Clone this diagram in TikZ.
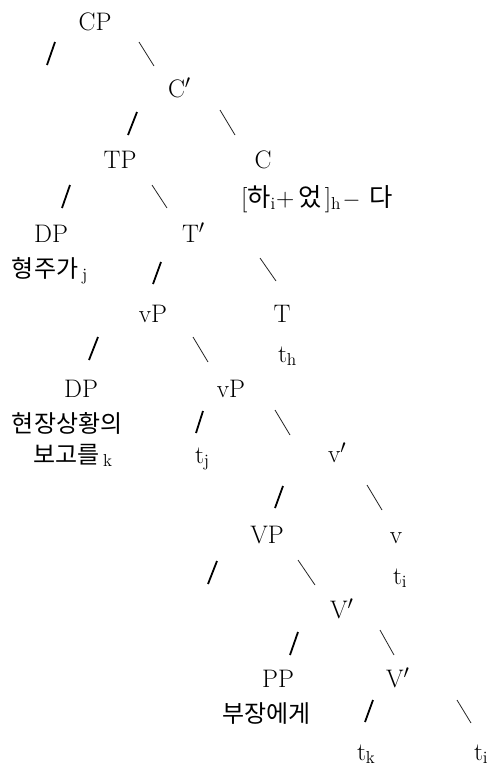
\documentclass[tikz,border=0pt]{standalone}
\usepackage{fontspec}
\newfontfamily\kr{Noto Sans CJK KR}
\newcommand{\sbs}[1]{\raisebox{-0.35ex}{\fontsize{13}{14}\selectfont #1}}
\tikzset{
  lbl/.style={inner sep=0pt, outer sep=0pt, font=\fontsize{19}{22}\selectfont},
  krl/.style={inner sep=0pt, outer sep=0pt, font=\fontsize{18}{22}\selectfont\kr},
  slL/.style={line width=1.35pt},
  slR/.style={line width=0.6pt, black!85}
}
\begin{document}
\begin{tikzpicture}[x=0.75pt,y=-0.75pt]
\useasboundingbox (0,0) rectangle (493,769);
% labels
\node[lbl, anchor=base] (cp) at (95,30) {CP};
\node[lbl, anchor=base west] (c1) at (168,97) {C$'$};
\node[lbl, anchor=base] (tp) at (120,168) {TP};
\node[lbl, anchor=base] (c) at (263,168) {C};
\node[lbl, anchor=base west] (chaeot) at (241,206) {[{\kr 하}\sbs{i}\hspace{0.5pt}+\hspace{3pt}{\kr 었}\hspace{2.5pt}]\sbs{h}\hspace{1.5pt}$-$\hspace{7pt}{\kr 다}};
\node[lbl, anchor=base] (dp1) at (51,242) {DP};
\node[lbl, anchor=base west] (t1) at (182,242) {T$'$};
\node[lbl, anchor=base west] (hj) at (12,277) {{\kr\fontsize{18}{22}\selectfont 형주가}\hspace{3pt}\sbs{j}};
\node[lbl, anchor=base] (vp1) at (153,322) {vP};
\node[lbl, anchor=base] (T) at (282,322) {T};
\node[lbl, anchor=base west] (th) at (278,362) {t\sbs{h}};
\node[lbl, anchor=base] (dp2) at (81,397) {DP};
\node[lbl, anchor=base] (vp2) at (231,397) {vP};
\node[krl, anchor=base west] (hs) at (12,432) {현장상황의};
\node[lbl, anchor=base west] (bk) at (33,463) {{\kr\fontsize{18}{22}\selectfont 보고를}\hspace{3pt}\sbs{k}};
\node[lbl, anchor=base west] (tj) at (195,463) {t\sbs{j}};
\node[lbl, anchor=base west] (v1) at (328,462) {v$'$};
\node[lbl, anchor=base] (VP) at (267,543) {VP};
\node[lbl, anchor=base] (v) at (396,543) {v};
\node[lbl, anchor=base west] (ti1) at (393,584) {t\sbs{i}};
\node[lbl, anchor=base west] (V1) at (330,618) {V$'$};
\node[lbl, anchor=base] (PP) at (278,687) {PP};
\node[lbl, anchor=base west] (V2) at (386,687) {V$'$};
\node[krl, anchor=base west] (bj) at (222,722) {부장에게};
\node[lbl, anchor=base west] (tk) at (357,760) {t\sbs{k}};
\node[lbl, anchor=base west] (ti2) at (474,760) {t\sbs{i}};
% left branches
\draw[slL] (55,42) -- (47,65);
\draw[slL] (137,112) -- (128,135);
\draw[slL] (70,185) -- (62,208);
\draw[slL] (161,262) -- (153,284);
\draw[slL] (98,337) -- (89,360);
\draw[slL] (203,411) -- (196,433);
\draw[slL] (283,486) -- (275,508);
\draw[slL] (217,561) -- (208,584);
\draw[slL] (298,632) -- (290,655);
\draw[slL] (373,700) -- (365,722);
% right branches
\draw[slR] (139,42) -- (154,66);
\draw[slR] (220,110) -- (235,135);
\draw[slR] (152,185) -- (167,208);
\draw[slR] (260,258) -- (276,281);
\draw[slR] (193,337) -- (208,362);
\draw[slR] (275,410) -- (290,435);
\draw[slR] (367,485) -- (382,510);
\draw[slR] (298,560) -- (315,585);
\draw[slR] (380,630) -- (394,655);
\draw[slR] (457,700) -- (471,723);
\end{tikzpicture}
\end{document}
